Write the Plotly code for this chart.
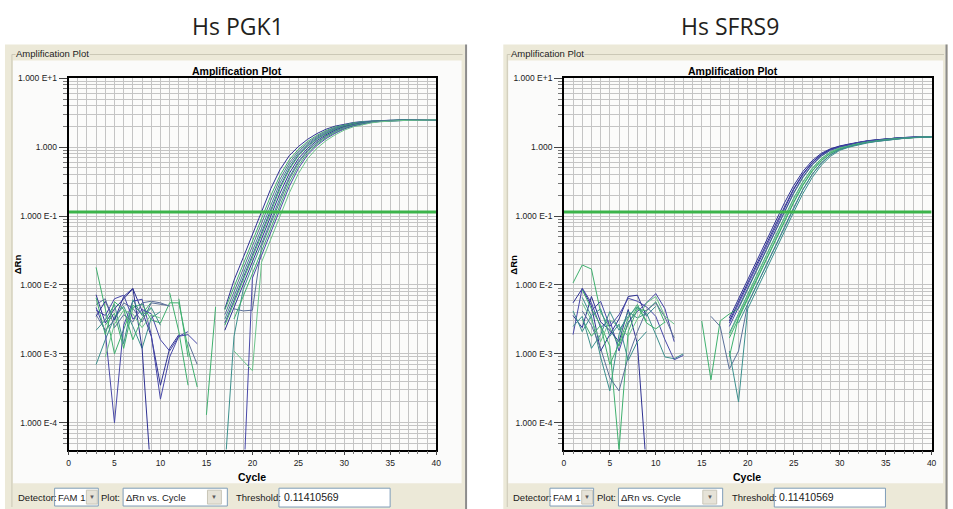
import math
import plotly.graph_objects as go

N = None
CYCLES = list(range(1, 41))
THRESHOLD = 0.11410569
X_RANGE = [0, 40]
Y_LOG_RANGE = [-4.39, 1.0]
Y_TICK_VALUES = [1e-4, 1e-3, 1e-2, 1e-1, 1, 10]
Y_TICK_LABELS = ["1.000 E-4", "1.000 E-3", "1.000 E-2", "1.000 E-1", "1.000", "1.000 E+1"]
PANEL_TITLES = ["Hs PGK1", "Hs SFRS9"]

NAVY, BLUE, SLATE, TEAL, GREEN, LGREEN = "#2e3192", "#4848a8", "#5b6f98", "#3b8f8c", "#3fb06e", "#6cc48a"

# ΔRn per cycle (1..40), Hs PGK1
PGK1_CURVES = [
    [N, N, 0.0072, 0.0028, 0.0045, 0.0062, 0.0088, 0.0042, 0.0018, 0.00035, 0.0012, 0.0019, N, N, N, N,
     0.0045, 0.0117, 0.0249, 0.0533, 0.114, 0.25, 0.47, 0.75, 1.02, 1.3, 1.57, 1.82, 2.02, 2.17, 2.28, 2.36, 2.41, 2.44, 2.46, 2.48, 2.49, 2.5, 2.5, 2.51],
    [N, N, 0.018, 0.0045, 0.001, 0.0022, 0.0051, 0.0038, 0.0056, N, 0.0077, 0.0021, 0.00035, N, N, N,
     0.00435, 0.0093, 0.0199, 0.0425, 0.0908, 0.198, 0.388, 0.651, 0.931, 1.21, 1.48, 1.74, 1.96, 2.12, 2.25, 2.34, 2.39, 2.43, 2.45, 2.47, 2.48, 2.49, 2.49, 2.5],
    [N, N, 0.0037, 0.0022, 0.0031, 0.0055, 0.0046, 0.0029, 0.0055, 0.0052, 0.005, N, N, N, N, N,
     0.0037, 0.008, 0.0171, 0.0365, 0.078, 0.169, 0.343, 0.592, 0.875, 1.15, 1.43, 1.69, 1.92, 2.09, 2.22, 2.32, 2.39, 2.42, 2.45, 2.47, 2.48, 2.49, 2.49, 2.5],
    [N, N, 0.0007, 0.0016, 0.0034, 0.0049, 0.0025, 0.0012, 0.0033, 0.0041, N, N, N, N, N, N,
     0.0032, 0.0069, 0.0147, 0.0313, 0.067, 0.145, 0.303, 0.539, 0.823, 1.1, 1.38, 1.64, 1.88, 2.06, 2.2, 2.31, 2.38, 2.42, 2.44, 2.46, 2.47, 2.48, 2.49, 2.49],
    [N, N, 0.0047, 0.0021, 0.0001, 0.0026, 0.0058, 0.0062, 0.0019, 0.00022, 0.0009, 0.0018, 0.0021, N, N, N,
     0.0028, 0.0059, 0.0126, 0.0269, 0.0575, 0.123, 0.267, 0.49, 0.773, 1.05, 1.33, 1.59, 1.84, 2.03, 2.18, 2.29, 2.37, 2.41, 2.44, 2.46, 2.48, 2.48, 2.49, 2.5],
    [N, N, N, 0.0026, 0.0039, 0.0012, 0.0047, 0.0053, 0.0031, 0.0028, 0.0055, 0.0055, 0.0012, 0.00033, N, N,
     0.0026, 0.0055, 0.0117, 0.0249, 0.0533, 0.114, 0.25, 0.47, 0.75, 1.02, 1.3, 1.57, 1.82, 2.02, 2.17, 2.28, 2.36, 2.41, 2.44, 2.46, 2.48, 2.49, 2.49, 2.5],
    [N, N, 0.0035, 0.0058, 0.0031, 0.0068, 0.0089, 0.0012, 0.000015, N, N, N, N, N, N, N,
     0.0022, 0.0047, 0.01, 0.0214, 0.0458, 0.098, 0.2145, 0.413, 0.682, 0.96, 1.24, 1.51, 1.77, 1.98, 2.14, 2.26, 2.34, 2.4, 2.43, 2.45, 2.47, 2.48, 2.49, 2.49],
    [N, N, 0.0022, 0.0031, 0.0052, 0.0014, 0.0061, 0.0036, 0.0047, 0.0026, N, N, N, N, N, N,
     0.00002, 0.0018, 0.0086, 0.0184, 0.0394, 0.0841, 0.183, 0.365, 0.621, 0.902, 1.18, 1.46, 1.72, 1.94, 2.11, 2.24, 2.33, 2.39, 2.43, 2.45, 2.46, 2.48, 2.48, 2.49],
    [N, N, 0.0052, 0.0063, 0.0024, 0.0037, 0.0029, 0.0055, 0.0058, 0.0055, 0.0049, N, 0.0015, 0.0007, N, N,
     N, 0.0045, 0.0042, 0.0043, 0.0365, 0.078, 0.169, 0.343, 0.592, 0.875, 1.15, 1.43, 1.69, 1.92, 2.09, 2.22, 2.32, 2.39, 2.42, 2.45, 2.47, 2.48, 2.49, 2.49],
    [N, N, 0.0065, 0.0019, 0.0057, 0.0044, 0.0016, 0.0033, 0.0046, N, N, 0.0063, 0.0009, N, 0.00013, 0.0048,
     N, 0.0032, 0.0069, 0.0147, 0.0313, 0.067, 0.145, 0.303, 0.539, 0.823, 1.1, 1.38, 1.64, 1.88, 2.06, 2.2, 2.31, 2.38, 2.42, 2.44, 2.46, 2.47, 2.48, 2.49],
    [N, N, 0.0043, 0.0036, 0.0063, 0.0071, 0.0032, 0.0044, 0.0038, 0.0016, 0.0011, 0.0018, 0.0019, 0.0014, N, N,
     N, N, 0.00001, 0.0126, 0.0269, 0.0575, 0.123, 0.267, 0.49, 0.773, 1.05, 1.33, 1.59, 1.84, 2.03, 2.18, 2.29, 2.37, 2.41, 2.44, 2.46, 2.48, 2.48, 2.49],
    [N, N, N, 0.0009, 0.0027, 0.0043, 0.0038, 0.0024, 0.0037, 0.0033, N, N, N, N, N, N,
     N, 0.0011, 0.0008, 0.00057, 0.0214, 0.0458, 0.098, 0.2145, 0.413, 0.682, 0.96, 1.24, 1.51, 1.77, 1.98, 2.14, 2.26, 2.34, 2.4, 2.43, 2.45, 2.47, 2.48, 2.49],
]
PGK1_COLORS = [NAVY, GREEN, SLATE, TEAL, BLUE, GREEN, NAVY, TEAL, SLATE, GREEN, BLUE, LGREEN]

# ΔRn per cycle (1..40), Hs SFRS9
SFRS9_CURVES = [
    [0.0055, 0.0088, 0.005, 0.0011, 0.0019, 0.0032, 0.0068, 0.0071, 0.0035, N, N, N, N, N, N, N, N,
     0.0033, 0.0063, 0.0119, 0.0228, 0.0433, 0.0826, 0.156, 0.277, 0.444, 0.634, 0.814, 0.948, 1.04, 1.11, 1.18, 1.24, 1.28, 1.32, 1.36, 1.38, 1.4, 1.41, 1.42],
    [0.0019, 0.009, 0.0055, 0.0024, 0.0031, 0.0011, 0.0029, 0.0041, 0.0055, 0.0075, 0.0045, 0.0015, N, N, N, N, N,
     0.0028, 0.0053, 0.0102, 0.0194, 0.0369, 0.0703, 0.133, 0.242, 0.4, 0.588, 0.774, 0.924, 1.02, 1.1, 1.17, 1.22, 1.27, 1.31, 1.35, 1.38, 1.39, 1.4, 1.41],
    [0.0107, 0.0195, 0.017, 0.004, 0.0024, 0.0013, 0.0027, 0.0048, 0.003, N, N, N, N, N, 0.003, 0.00042, 0.003,
     0.0038, 0.0045, 0.0087, 0.0165, 0.0314, 0.0598, 0.114, 0.212, 0.36, 0.546, 0.736, 0.9, 1.0, 1.08, 1.15, 1.21, 1.26, 1.3, 1.34, 1.37, 1.39, 1.4, 1.41],
    [0.0036, 0.0024, 0.0068, 0.0029, 0.0022, 0.0015, 0.0044, 0.0014, 0.00002, N, N, N, N, N, N, N, N,
     0.003, 0.0056, 0.0108, 0.0203, 0.0385, 0.0735, 0.139, 0.25, 0.41, 0.6, 0.785, 0.93, 1.03, 1.1, 1.17, 1.23, 1.28, 1.32, 1.35, 1.38, 1.4, 1.41, 1.42],
    [N, 0.0066, 0.0035, 0.0009, 0.00029, 0.0019, 0.0041, 0.0033, 0.0039, 0.0019, 0.0009, 0.00085, 0.001, N, N, N, N,
     0.002, 0.0039, 0.0074, 0.014, 0.0268, 0.0509, 0.097, 0.182, 0.316, 0.492, 0.683, 0.856, 0.974, 1.06, 1.13, 1.2, 1.25, 1.29, 1.33, 1.36, 1.39, 1.4, 1.41],
    [N, 0.0085, 0.0045, 0.0026, 0.0013, 0.00004, 0.0021, 0.0045, 0.0042, 0.0057, 0.0028, N, N, N, N, N, N,
     0.0017, 0.0033, 0.0063, 0.0119, 0.0228, 0.0433, 0.0826, 0.156, 0.277, 0.444, 0.634, 0.814, 0.948, 1.04, 1.11, 1.18, 1.24, 1.28, 1.32, 1.36, 1.38, 1.4, 1.41],
    [N, 0.0042, 0.0026, 0.0012, 0.00045, 0.00029, 0.0009, 0.0021, 0.0043, 0.0055, 0.0034, 0.0017, N, N, N, 0.0035, 0.0025,
     0.0006, 0.0011, 0.0053, 0.0102, 0.0194, 0.0369, 0.0703, 0.133, 0.242, 0.4, 0.588, 0.774, 0.924, 1.02, 1.1, 1.17, 1.22, 1.27, 1.31, 1.35, 1.38, 1.39, 1.4],
    [N, 0.0055, 0.0031, 0.0015, 0.0031, 0.0025, 0.0018, 0.0032, 0.0055, 0.0068, 0.0035, 0.0027, N, N, N, N, N,
     0.0019, 0.0037, 0.0071, 0.0135, 0.026, 0.049, 0.094, 0.176, 0.308, 0.482, 0.672, 0.846, 0.966, 1.05, 1.13, 1.19, 1.25, 1.29, 1.33, 1.36, 1.38, 1.4, 1.41],
    [0.0042, 0.0021, 0.0036, 0.0045, 0.0018, 0.0027, 0.0008, 0.0015, 0.0021, N, N, N, N, N, N, N, N,
     0.0011, 0.0002, 0.0045, 0.0087, 0.0165, 0.0314, 0.0598, 0.114, 0.212, 0.36, 0.546, 0.736, 0.9, 1.0, 1.08, 1.15, 1.21, 1.26, 1.3, 1.34, 1.37, 1.39, 1.4],
    [N, N, 0.0042, 0.0058, 0.0025, 0.0037, 0.0064, 0.0058, 0.0048, 0.0035, 0.0016, 0.00082, 0.00095, N, N, N, N,
     0.0025, 0.0047, 0.009, 0.017, 0.0323, 0.0615, 0.117, 0.218, 0.37, 0.556, 0.745, 0.905, 1.01, 1.09, 1.16, 1.22, 1.27, 1.31, 1.35, 1.37, 1.39, 1.41, 1.42],
    [N, 0.0032, 0.0018, 0.0026, 0.0007, 0.0014, 0.0033, 0.0052, 0.0028, 0.0023, 0.0029, N, N, N, N, N, N,
     0.0009, 0.0034, 0.0065, 0.0123, 0.0235, 0.0446, 0.085, 0.16, 0.284, 0.452, 0.642, 0.82, 0.95, 1.04, 1.12, 1.18, 1.24, 1.29, 1.33, 1.36, 1.39, 1.4, 1.41],
    [0.0025, 0.0035, 0.0012, 0.0019, 0.0041, 0.0022, 0.0035, 0.0048, 0.0036, 0.0049, N, N, N, N, N, N, N,
     N, 0.0028, 0.0053, 0.0102, 0.0194, 0.0369, 0.0703, 0.133, 0.242, 0.4, 0.588, 0.774, 0.924, 1.02, 1.1, 1.17, 1.22, 1.27, 1.31, 1.35, 1.38, 1.39, 1.4],
]
SFRS9_COLORS = [NAVY, BLUE, GREEN, NAVY, TEAL, GREEN, SLATE, LGREEN, TEAL, BLUE, GREEN, TEAL]

for c in PGK1_CURVES + SFRS9_CURVES:
    assert len(c) == len(CYCLES), len(c)

W, H = 953, 509
BEIGE = "#ece9d8"
GRID = "#c4c4c4"
UI_FONT = "Liberation Sans"


def fx(px):
    return px / W


def fy(py):
    return 1 - py / H


PANELS = [
    dict(curves=PGK1_CURVES, colors=PGK1_COLORS, off=0, frame=(3, 467), title_x=238, xa="x", ya="y"),
    dict(curves=SFRS9_CURVES, colors=SFRS9_COLORS, off=499, frame=(505, 953), title_x=733, xa="x2", ya="y2"),
]

fig = go.Figure()
shapes = []
annotations = []


def rect(x0, y0, x1, y1, fill=None, line=None, lw=1, layer="below"):
    shapes.append(dict(type="rect", xref="paper", yref="paper", x0=fx(x0), x1=fx(x1), y0=fy(y1), y1=fy(y0),
                       fillcolor=fill if fill else "rgba(0,0,0,0)",
                       line=dict(color=line if line else "rgba(0,0,0,0)", width=lw), layer=layer))


def seg(x0, y0, x1, y1, color, lw=1, layer="below"):
    shapes.append(dict(type="line", xref="paper", yref="paper", x0=fx(x0), x1=fx(x1), y0=fy(y0), y1=fy(y1),
                       line=dict(color=color, width=lw), layer=layer))


def text(x, y, s, size=9.5, bold=False, anchor="left", color="#1a1a1a", family=UI_FONT, angle=0, bg=None):
    annotations.append(dict(xref="paper", yref="paper", x=fx(x), y=fy(y), text=f"<b>{s}</b>" if bold else s,
                            showarrow=False, xanchor=anchor, yanchor="middle", textangle=angle,
                            font=dict(family=family, size=size, color=color),
                            bgcolor=bg if bg else "rgba(0,0,0,0)", borderpad=0))


for i, p in enumerate(PANELS):
    off = p["off"]
    fl, fr = p["frame"]
    # window frame
    rect(fl, 40, fr, 509, fill=BEIGE)
    rect(11 + off, 56, min(463 + off, 948), 483, fill="#fbfbfa")
    seg(10 + off, 50, min(464 + off, 949), 50, "#cbc8b6")
    seg(10 + off, 50, 10 + off, 507, "#cbc8b6")
    seg(min(467.5 + off, 951.5), 40, min(467.5 + off, 951.5), 509, "#8c8c8c", lw=2)
    text(13 + off, 49, "Amplification Plot", size=9.5, bg=BEIGE, color="#222")
    # titles
    text(p["title_x"], 21, PANEL_TITLES[i], size=23, anchor="center", family="Open Sans", color="#231f20")
    text(237 + off, 67, "Amplification Plot", size=10.5, bold=True, anchor="center", color="#000")
    text(252 + off, 477, "Cycle", size=10.5, bold=True, anchor="center", color="#000")
    text(16 + off, 262, "ΔRn", size=9.5, bold=True, anchor="center", angle=-90, color="#000")
    # bottom controls
    text(15 + off, 497, "Detector:", size=9.5)
    rect(53 + off, 488, 97 + off, 506, fill="white", line="#7f9db9", layer="above")
    text(55 + off, 497, "FAM 1", size=9.5)
    rect(85 + off, 490, 96 + off, 504, fill="#e6e3d8", line="#c9c6b8", layer="above")
    text(90.5 + off, 497, "▼", size=6, anchor="center", color="#5a5a5a")
    text(99 + off, 497, "Plot:", size=9.5)
    rect(122 + off, 488, 227 + off, 506, fill="white", line="#7f9db9", layer="above")
    text(124 + off, 497, "ΔRn vs. Cycle", size=9.5)
    rect(207 + off, 490, 221 + off, 504, fill="#e6e3d8", line="#c9c6b8", layer="above")
    text(214 + off, 497, "▼", size=6, anchor="center", color="#5a5a5a")
    text(235 + off, 497, "Threshold:", size=9.5)
    rect(279 + off, 488, 391 + off, 507, fill="white", line="#7f9db9", layer="above")
    text(283 + off, 497, f"{THRESHOLD:.8f}", size=10.5)

    for vals, col in zip(p["curves"], p["colors"]):
        fig.add_trace(go.Scatter(x=CYCLES, y=vals, mode="lines", line=dict(color=col, width=1),
                                 connectgaps=False, showlegend=False, hoverinfo="skip",
                                 xaxis=p["xa"], yaxis=p["ya"]))
    fig.add_trace(go.Scatter(x=X_RANGE, y=[THRESHOLD, THRESHOLD], mode="lines",
                             line=dict(color="#3cb44b", width=3), showlegend=False, hoverinfo="skip",
                             xaxis=p["xa"], yaxis=p["ya"]))

minor_y = [k * 10.0 ** e for e in range(-5, 1) for k in range(2, 10)
           if Y_LOG_RANGE[0] <= math.log10(k * 10.0 ** e) <= Y_LOG_RANGE[1]]

tickfont = dict(family=UI_FONT, size=8.5, color="#222")


def xcfg(p, anchor):
    return dict(domain=[fx(67 + p["off"]), fx(437.5 + p["off"])], anchor=anchor, range=X_RANGE,
                tickmode="linear", tick0=0, dtick=5, ticks="outside", ticklen=4, tickcolor="#444",
                showgrid=True, gridcolor=GRID, gridwidth=1,
                minor=dict(tickmode="linear", tick0=0, dtick=1, ticks="outside", ticklen=3, tickcolor="#777",
                           showgrid=True, gridcolor=GRID, gridwidth=1),
                showline=True, linecolor="#000", linewidth=1.5, mirror=True, zeroline=False,
                tickfont=tickfont, fixedrange=True)


def ycfg(p, anchor):
    return dict(domain=[fy(449), fy(74)], anchor=anchor, type="log", range=Y_LOG_RANGE,
                tickmode="array", tickvals=Y_TICK_VALUES, ticktext=Y_TICK_LABELS,
                ticks="outside", ticklen=8, tickcolor="#444",
                showgrid=True, gridcolor=GRID, gridwidth=1,
                minor=dict(tickmode="array", tickvals=minor_y, ticks="outside", ticklen=4, tickcolor="#777",
                           showgrid=True, gridcolor=GRID, gridwidth=1),
                showline=True, linecolor="#000", linewidth=1.5, mirror=True, zeroline=False,
                tickfont=tickfont, fixedrange=True)


fig.update_layout(
    width=W, height=H, autosize=False, margin=dict(l=0, r=0, t=0, b=0),
    paper_bgcolor="white", plot_bgcolor="white", hovermode=False,
    xaxis=xcfg(PANELS[0], "y"), yaxis=ycfg(PANELS[0], "x"),
    xaxis2=xcfg(PANELS[1], "y2"), yaxis2=ycfg(PANELS[1], "x2"),
    shapes=shapes, annotations=annotations,
)

fig.write_html("out.html", config={"displayModeBar": False},
               post_script="document.body.style.margin='0';document.body.style.padding='0';"
                           "document.documentElement.style.overflow='hidden';")
